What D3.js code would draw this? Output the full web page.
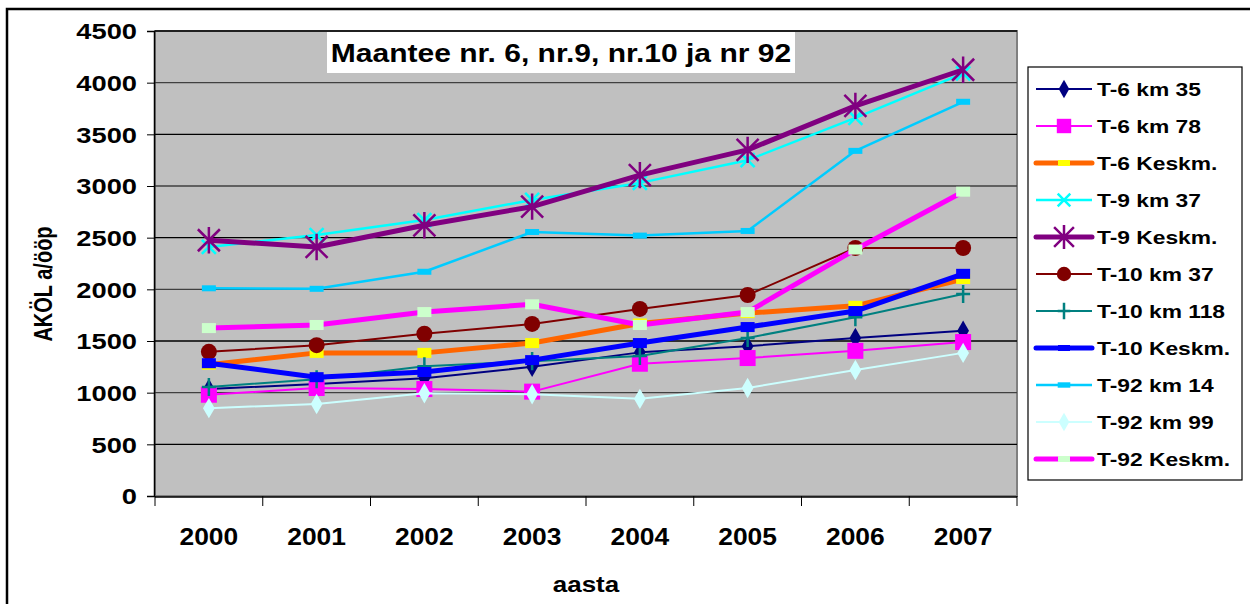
<!DOCTYPE html>
<html>
<head>
<meta charset="utf-8">
<script src="https://cdn.jsdelivr.net/npm/d3@7"></script>
<style>
  body { margin: 0; background: #fff; }
  svg text { font-family: "Liberation Sans", Arial, sans-serif; font-weight: bold; fill: #000; }
</style>
</head>
<body>
<svg id="chart" width="1250" height="604"></svg>
<script>
// categories
const years = ["2000", "2001", "2002", "2003", "2004", "2005", "2006", "2007"];
const yTicks = [0, 500, 1000, 1500, 2000, 2500, 3000, 3500, 4000, 4500];

// series
const seriesNames = ["T-6 km 35", "T-6 km 78", "T-6 Keskm.", "T-9 km 37", "T-9 Keskm.",
  "T-10 km 37", "T-10 km 118", "T-10 Keskm.", "T-92 km 14", "T-92 km 99", "T-92 Keskm."];
const t6km35   = [1035, 1085, 1140, 1250, 1390, 1450, 1530, 1600];
const t6km78   = [980, 1045, 1035, 1010, 1280, 1335, 1405, 1490];
const t6avg    = [1270, 1385, 1385, 1480, 1670, 1770, 1840, 2100];
const t9km37   = [2410, 2525, 2670, 2865, 3030, 3250, 3660, 4090];
const t9avg    = [2475, 2410, 2620, 2800, 3105, 3350, 3775, 4125];
const t10km37  = [1395, 1460, 1570, 1665, 1810, 1945, 2400, 2400];
const t10km118 = [1055, 1130, 1255, 1305, 1355, 1530, 1730, 1955];
const t10avg   = [1285, 1150, 1200, 1315, 1480, 1635, 1790, 2150];
const t92km14  = [2010, 2005, 2170, 2555, 2520, 2565, 3340, 3815];
const t92km99  = [850, 890, 995, 985, 940, 1045, 1220, 1385];
const t92avg   = [1625, 1655, 1780, 1855, 1655, 1780, 2385, 2945];
const seriesValues = [t6km35, t6km78, t6avg, t9km37, t9avg, t10km37, t10km118, t10avg, t92km14, t92km99, t92avg];

// look of each series: line colour, width, marker type, marker colours
const styles = [
  { stroke: "#000080", width: 2, marker: "diamond", fill: "#000080" },
  { stroke: "#FF00FF", width: 2, marker: "square", fill: "#FF00FF" },
  { stroke: "#FF6600", width: 5, marker: "rect", fill: "#FFFF00" },
  { stroke: "#00FFFF", width: 2.5, marker: "x", fill: "#00FFFF" },
  { stroke: "#800080", width: 5, marker: "asterisk", fill: "#800080" },
  { stroke: "#800000", width: 2, marker: "circle", fill: "#800000" },
  { stroke: "#008080", width: 2, marker: "plus", fill: "#008080" },
  { stroke: "#0000FF", width: 5, marker: "rect", fill: "#0000FF" },
  { stroke: "#00CCFF", width: 2.5, marker: "dash", fill: "#00CCFF" },
  { stroke: "#CCFFFF", width: 2, marker: "diamond", fill: "#CCFFFF" },
  { stroke: "#FF00FF", width: 5, marker: "rect", fill: "#CCFFCC" }
];

const svg = d3.select("#chart");

// the reference text is a little wider than plain Arial, stretch it
function stretch(sel, k) {
  sel.each(function() {
    const w = this.getComputedTextLength();
    d3.select(this).attr("textLength", w * k).attr("lengthAdjust", "spacingAndGlyphs");
  });
}

// outer chart frame (runs off the right and bottom edge)
svg.append("rect")
   .attr("x", 7).attr("y", 9)
   .attr("width", 1260).attr("height", 620)
   .attr("fill", "#fff")
   .attr("stroke", "#000")
   .attr("stroke-width", 2.5);

// plot area
const plot = { left: 155, right: 1017, top: 31, bottom: 496 };

const xScale = d3.scaleBand()
                 .domain(years)
                 .range([plot.left, plot.right]);
const xMid = d => xScale(d) + xScale.bandwidth() / 2;

const yScale = d3.scaleLinear()
                 .domain([0, 4500])
                 .range([plot.bottom, plot.top]);

svg.append("rect")
   .attr("x", plot.left).attr("y", plot.top)
   .attr("width", plot.right - plot.left)
   .attr("height", plot.bottom - plot.top)
   .attr("fill", "#C0C0C0")
   .attr("stroke", "#808080")
   .attr("stroke-width", 2);

// gridlines
svg.append("g")
   .selectAll("line")
   .data(yTicks.filter(d => d > 0))
   .join("line")
     .attr("x1", plot.left).attr("x2", plot.right)
     .attr("y1", d => yScale(d)).attr("y2", d => yScale(d))
     .attr("stroke", (d, i) => i % 2 === 0 ? "#000" : "#404040")
     .attr("stroke-width", 1.3);

// Y axis
const yAxis = d3.axisLeft(yScale)
                .tickValues(yTicks)
                .tickFormat(d3.format("d"))
                .tickSize(7)
                .tickPadding(10);
const yG = svg.append("g")
              .attr("transform", `translate(${plot.left - 1},0)`)
              .call(yAxis);
yG.select(".domain").attr("stroke", "#000").attr("stroke-width", 1.5);
yG.selectAll(".tick line").attr("stroke", "#000");
yG.selectAll(".tick text")
  .attr("fill", "#000")
  .attr("dy", "0.36em")
  .style("font-size", "22px")
  .style("font-family", "'Liberation Sans', Arial, sans-serif")
  .style("font-weight", "bold")
  .call(stretch, 1.24);

// X axis: ticks on category boundaries
const xG = svg.append("g");
xG.append("line")
  .attr("x1", plot.left).attr("x2", plot.right)
  .attr("y1", plot.bottom + 1).attr("y2", plot.bottom + 1)
  .attr("stroke", "#000").attr("stroke-width", 1.5);
xG.selectAll(".xtick")
  .data(years.concat(["end"]))
  .join("line")
    .attr("class", "xtick")
    .attr("x1", (d, i) => i < years.length ? xScale(d) : plot.right)
    .attr("x2", (d, i) => i < years.length ? xScale(d) : plot.right)
    .attr("y1", plot.bottom)
    .attr("y2", plot.bottom + 10)
    .attr("stroke", "#000");
xG.selectAll(".xlabel")
  .data(years)
  .join("text")
    .attr("class", "xlabel")
    .attr("x", d => xMid(d))
    .attr("y", 545)
    .attr("text-anchor", "middle")
    .style("font-size", "24px")
    .text(d => d)
    .call(stretch, 1.1);

// axis titles
svg.append("text")
   .attr("x", 586)
   .attr("y", 592)
   .attr("text-anchor", "middle")
   .style("font-size", "22px")
   .text("aasta")
   .call(stretch, 1.18);

svg.append("text")
   .attr("transform", "translate(52, 284) scale(1.25,1) rotate(-90)")
   .attr("text-anchor", "middle")
   .style("font-size", "20px")
   .text("AKÖL a/ööp");

// marker drawing
function drawMarker(g, type, fill, size) {
  const s = size || 1;
  if (type === "diamond") {
    g.append("path").attr("d", d3.symbol(d3.symbolDiamond, 120 * s * s)()).attr("fill", fill);
  } else if (type === "square") {
    g.append("rect").attr("x", -8 * s).attr("y", -8 * s).attr("width", 16 * s).attr("height", 16 * s).attr("fill", fill);
  } else if (type === "rect") {
    g.append("rect").attr("x", -7 * s).attr("y", -5 * s).attr("width", 14 * s).attr("height", 10 * s).attr("fill", fill);
  } else if (type === "dash") {
    g.append("rect").attr("x", -7 * s).attr("y", -3 * s).attr("width", 14 * s).attr("height", 6 * s).attr("fill", fill);
  } else if (type === "circle") {
    g.append("circle").attr("r", 8 * s).attr("fill", fill);
  } else if (type === "x") {
    const r = 7 * s;
    g.append("path").attr("d", `M${-r},${-r}L${r},${r}M${-r},${r}L${r},${-r}`)
     .attr("stroke", fill).attr("stroke-width", 2.5).attr("fill", "none");
  } else if (type === "asterisk") {
    const r = 11 * s;
    g.append("path").attr("d", `M${-r},${-r}L${r},${r}M${-r},${r}L${r},${-r}M0,${-r * 1.2}L0,${r * 1.2}`)
     .attr("stroke", fill).attr("stroke-width", 2.5).attr("fill", "none");
  } else if (type === "plus") {
    const r = 7 * s;
    g.append("path").attr("d", `M${-r},0L${r},0M0,${-r * 1.3}L0,${r * 1.3}`)
     .attr("stroke", fill).attr("stroke-width", 2.5).attr("fill", "none");
  }
}

// lines and markers
const line = d3.line()
               .x((d, i) => xMid(years[i]))
               .y(d => yScale(d));

seriesValues.forEach(function(values, k) {
  const st = styles[k];
  const g = svg.append("g").attr("class", "series");
  g.append("path")
   .attr("d", line(values))
   .attr("fill", "none")
   .attr("stroke", st.stroke)
   .attr("stroke-width", st.width)
   .attr("stroke-linejoin", "round");
  values.forEach(function(v, i) {
    const mg = g.append("g").attr("transform", `translate(${xMid(years[i])},${yScale(v)})`);
    drawMarker(mg, st.marker, st.fill);
  });
});

// chart title box
const titleG = svg.append("g");
titleG.append("rect")
      .attr("x", 327).attr("y", 32)
      .attr("width", 468).attr("height", 41)
      .attr("fill", "#fff");
titleG.append("text")
      .attr("x", 561).attr("y", 62)
      .attr("text-anchor", "middle")
      .style("font-size", "25px")
      .text("Maantee nr. 6, nr.9, nr.10 ja nr 92")
      .call(stretch, 1.2);

// legend
const legend = svg.append("g");
legend.append("rect")
      .attr("x", 1028).attr("y", 67)
      .attr("width", 214).attr("height", 413)
      .attr("fill", "#fff")
      .attr("stroke", "#000")
      .attr("stroke-width", 1.2);

const legendY = d3.scalePoint()
                  .domain(seriesNames)
                  .range([89, 459]);

seriesNames.forEach(function(name, k) {
  const st = styles[k];
  const y = legendY(name);
  const g = legend.append("g");
  g.append("line")
   .attr("x1", 1036).attr("x2", 1092)
   .attr("y1", y).attr("y2", y)
   .attr("stroke", st.stroke)
   .attr("stroke-width", st.width)
   .attr("stroke-linecap", st.width > 3 ? "round" : "butt");
  const mg = g.append("g").attr("transform", `translate(1064,${y})`);
  if (st.marker === "rect") {
    mg.append("rect").attr("x", -6).attr("y", -3).attr("width", 12).attr("height", 6).attr("fill", st.fill);
  } else {
    drawMarker(mg, st.marker, st.fill, 0.9);
  }
  g.append("text")
   .attr("x", 1097).attr("y", y + 7)
   .style("font-size", "19px")
   .text(name)
   .call(stretch, 1.2);
});
</script>
</body>
</html>
